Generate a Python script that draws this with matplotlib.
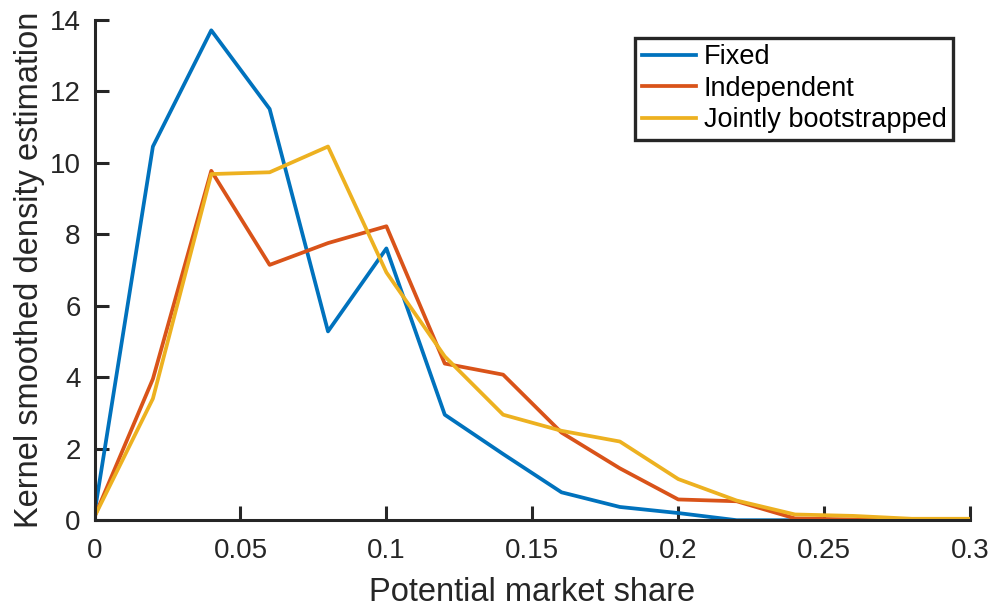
import matplotlib

matplotlib.use("Agg")
import matplotlib.pyplot as plt

share = [0.00, 0.02, 0.04, 0.06, 0.08, 0.10, 0.12, 0.14, 0.16,
         0.18, 0.20, 0.22, 0.24, 0.26, 0.28, 0.30]
fixed = [0.2, 10.45, 13.7, 11.5, 5.28, 7.6, 2.95, 1.85, 0.78,
         0.37, 0.2, 0.0, 0.0, 0.0, 0.0, 0.0]
independent = [0.1, 3.95, 9.77, 7.14, 7.75, 8.22, 4.38, 4.07, 2.45,
               1.45, 0.58, 0.53, 0.05, 0.02, 0.0, 0.0]
jointly = [0.1, 3.4, 9.68, 9.73, 10.45, 6.93, 4.58, 2.95, 2.5,
           2.2, 1.15, 0.55, 0.16, 0.12, 0.04, 0.04]

labels = ["Fixed", "Independent", "Jointly bootstrapped"]
colors = ["#0072BD", "#D95319", "#EDB120"]

plt.rcParams["font.family"] = ["Liberation Sans", "DejaVu Sans"]
AX_COLOR = "#262626"

fig = plt.figure(figsize=(9.95, 6.12), dpi=100)
ax = fig.add_axes([0.095, 0.150, 0.88, 0.818])

for series, label, color in zip([fixed, independent, jointly], labels, colors):
    ax.plot(share, series, color=color, lw=2.7, label=label)

ax.set_xlim(0, 0.3)
ax.set_ylim(0, 14)
ax.set_xticks([0, 0.05, 0.1, 0.15, 0.2, 0.25, 0.3])
ax.set_xticklabels(["0", "0.05", "0.1", "0.15", "0.2", "0.25", "0.3"])
ax.set_yticks(range(0, 15, 2))

for side in ["top", "right"]:
    ax.spines[side].set_visible(False)
for side in ["left", "bottom"]:
    ax.spines[side].set_color(AX_COLOR)
    ax.spines[side].set_linewidth(2.2)

ax.tick_params(direction="in", length=10, width=2.2, colors=AX_COLOR,
               labelsize=20)
ax.tick_params(axis="x", pad=13)
ax.tick_params(axis="y", pad=10)
ax.set_xlabel("Potential market share", fontsize=23.5, color=AX_COLOR,
              labelpad=9)
ax.set_ylabel("Kernel smoothed density estimation", fontsize=23.5,
              color=AX_COLOR, labelpad=3)

leg = ax.legend(loc="upper right", bbox_to_anchor=(0.981, 0.964),
                fontsize=19.5, frameon=True, fancybox=False,
                handlelength=2.0, handletextpad=0.3, borderpad=0.25,
                labelspacing=0.2, borderaxespad=0)
leg.get_frame().set_edgecolor(AX_COLOR)
leg.get_frame().set_linewidth(2.4)
leg.get_frame().set_alpha(1)

fig.savefig("out.png", dpi=100)
